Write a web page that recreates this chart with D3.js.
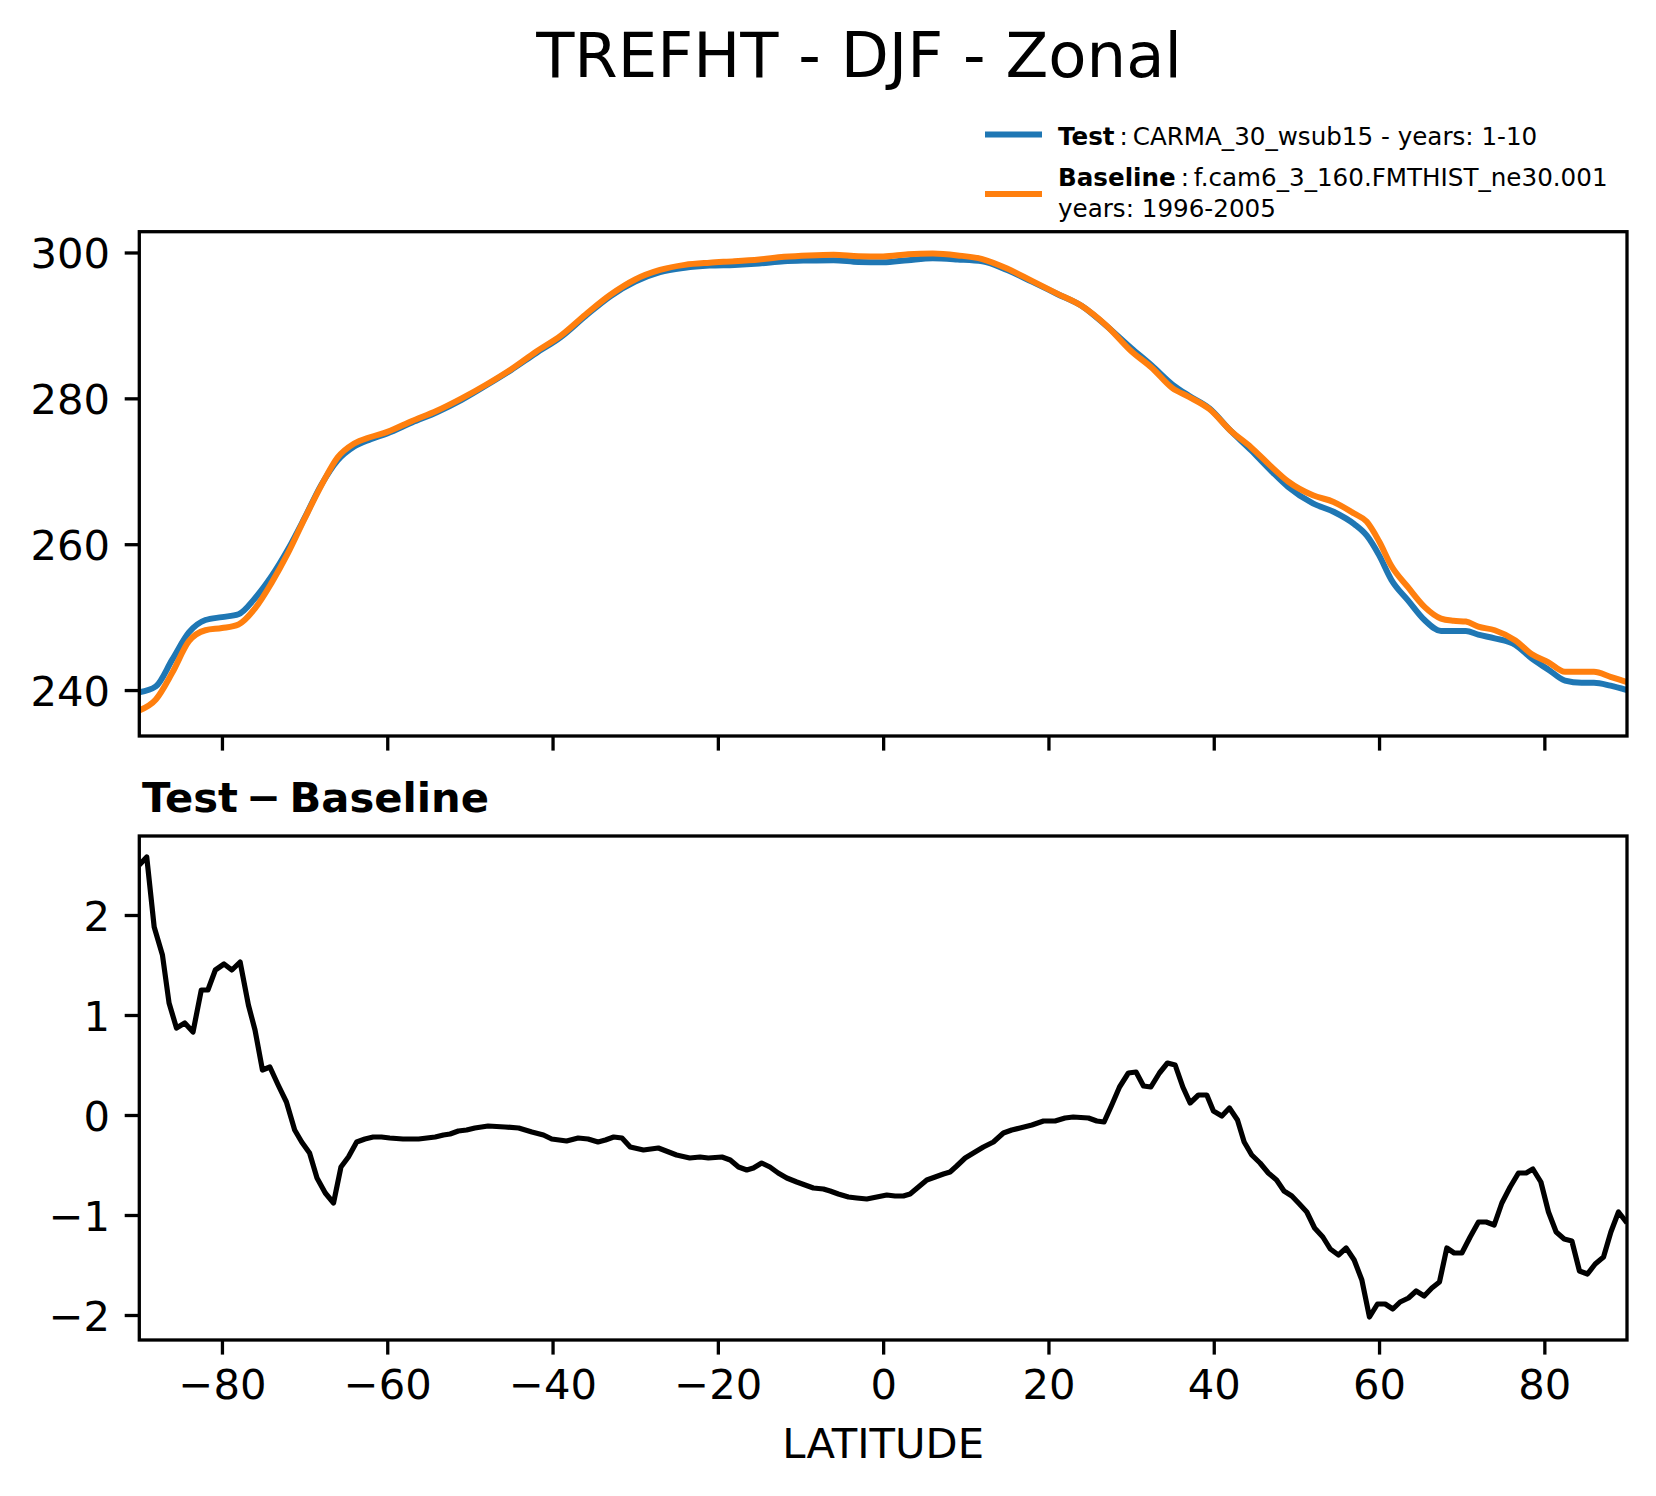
<!DOCTYPE html>
<html>
<head>
<meta charset="utf-8">
<script src="https://cdn.jsdelivr.net/npm/d3@7"></script>
<style>
  html, body { margin: 0; padding: 0; background: #ffffff; }
  svg { display: block; }
  text { font-family: "DejaVu Sans", sans-serif; fill: #000; }
</style>
</head>
<body>
<svg id="chart" width="1656" height="1496"></svg>
<script>
// ---------------- data ----------------
const latTop = [-90,-88,-86,-84,-82,-80,-78,-76,-74,-72,-70,-68,-66,-64,-62,-60,
  -57,-54,-51,-48,-45,-42,-39,-36,-33,-30,-27,-24,-21,-18,-15,-12,-9,-6,-3,
  0,3,6,9,12,15,18,21,24,27,30,
  32.5,35,37,39.5,42,44.5,47,49,52,54.5,57,58.5,60,61.5,63.5,65.5,67.5,69,70.5,72,74,76.5,78.5,80.5,82.5,84.5,86,88,90];

const testVals = [239.7,240.5,244.2,247.9,249.6,250.0,250.4,252.6,255.6,259.3,263.6,268.1,271.5,273.4,274.4,275.2,
  276.7,278.1,279.8,281.8,283.9,286.2,288.4,291.3,294.0,296.0,297.3,297.9,298.2,298.3,298.5,298.8,298.9,298.95,298.7,
  298.65,298.95,299.2,299.05,298.8,297.6,296.0,294.35,292.7,289.95,286.9,
  284.5,281.9,280.35,278.6,275.6,272.9,270.0,267.85,265.6,264.45,262.75,261.2,258.5,255.1,252.3,249.6,248.1,248.1,248.1,247.6,247.1,246.2,244.3,242.8,241.3,241.0,241.0,240.6,240.0];

const baselineVals = [237.2,238.7,242.4,246.7,248.2,248.5,249.0,251.2,254.7,258.8,263.5,268.0,271.9,273.8,274.7,275.4,
  276.9,278.3,280.0,281.9,284.0,286.4,288.6,291.5,294.2,296.3,297.6,298.3,298.6,298.8,299.05,299.4,299.6,299.7,299.5,
  299.45,299.75,299.85,299.6,299.1,297.8,296.1,294.4,292.7,290.0,286.5,
  284.2,281.4,280.2,278.5,275.6,273.3,270.6,268.6,266.7,265.8,264.2,263.1,260.4,257.0,254.1,251.4,249.8,249.5,249.4,248.7,248.2,246.8,244.9,243.8,242.5,242.5,242.5,241.8,241.1];

const latDiff = [-90,-89.1,-88.2,-87.2,-86.4,-85.5,-84.5,-83.5,-82.5,-81.7,
  -80.8,-79.75,-78.8,-77.8,-76.8,-76.0,-75.1,-74.2,-73.2,-72.2,
  -71.2,-70.35,-69.4,-68.5,-67.5,-66.5,-65.6,-64.7,-63.7,-62.7,
  -61.7,-60.7,-59.7,-58.1,-57.1,-56.2,-55.2,-54.2,-53.2,-52.4,
  -51.4,-50.4,-49.4,-47.8,-45.75,-44.1,-42.5,-41.1,-40.1,-38.3,
  -36.9,-35.7,-34.5,-33.6,-32.6,-31.6,-30.6,-29.0,-27.2,-25.0,
  -23.4,-22.15,-21.15,-19.5,-18.5,-17.5,-16.5,-15.7,-14.7,-13.7,
  -12.7,-11.66,-10.45,-9.45,-8.44,-7.23,-6.42,-5.42,-4.2,-3.2,
  -1.98,-0.77,0.44,1.44,2.45,3.26,4.27,5.28,6.29,7.29,
  8.1,8.9,9.92,10.92,12.13,13.34,14.55,15.56,16.57,18.0,
  19.4,20.8,22.0,23.0,24.84,25.85,26.73,27.66,28.6,29.67,
  30.6,31.5,32.39,33.43,34.4,35.33,36.26,37.14,38.15,39.16,
  39.96,40.98,41.9,42.87,43.68,44.6,45.6,46.6,47.6,48.5,
  49.45,50.37,51.26,52.2,53.2,54.1,55.09,56.02,56.99,57.92,
  58.84,59.81,60.74,61.67,62.55,63.56,64.49,65.46,66.39,67.31,
  68.2,69.09,70.02,71.02,72.03,72.96,73.93,74.86,75.86,76.87,
  77.8,78.61,79.58,80.5,81.43,82.4,83.33,84.25,85.22,86.15,
  87.16,88.05,88.97,90];

const diffVals = [2.5,2.58,1.88,1.60,1.12,0.87,0.92,0.83,1.25,1.25,
  1.45,1.51,1.45,1.53,1.10,0.85,0.45,0.48,0.30,0.13,
  -0.15,-0.27,-0.38,-0.63,-0.78,-0.88,-0.52,-0.42,-0.27,-0.24,
  -0.22,-0.22,-0.23,-0.24,-0.24,-0.24,-0.23,-0.22,-0.20,-0.19,
  -0.16,-0.15,-0.13,-0.11,-0.12,-0.13,-0.17,-0.20,-0.24,-0.26,
  -0.23,-0.24,-0.27,-0.25,-0.22,-0.23,-0.32,-0.35,-0.33,-0.40,
  -0.43,-0.42,-0.43,-0.42,-0.45,-0.52,-0.55,-0.53,-0.48,-0.52,
  -0.58,-0.63,-0.67,-0.70,-0.73,-0.74,-0.76,-0.79,-0.82,-0.83,
  -0.84,-0.82,-0.80,-0.81,-0.81,-0.79,-0.72,-0.65,-0.62,-0.59,
  -0.57,-0.51,-0.43,-0.38,-0.32,-0.27,-0.18,-0.15,-0.13,-0.10,
  -0.06,-0.06,-0.03,-0.02,-0.03,-0.06,-0.07,0.10,0.28,0.42,
  0.43,0.29,0.28,0.42,0.52,0.50,0.28,0.12,0.20,0.20,
  0.04,-0.01,0.07,-0.05,-0.27,-0.40,-0.48,-0.58,-0.65,-0.76,
  -0.81,-0.89,-0.97,-1.13,-1.22,-1.34,-1.40,-1.33,-1.45,-1.65,
  -2.02,-1.89,-1.89,-1.94,-1.87,-1.83,-1.76,-1.81,-1.73,-1.67,
  -1.33,-1.38,-1.38,-1.22,-1.07,-1.07,-1.10,-0.88,-0.72,-0.58,
  -0.58,-0.54,-0.67,-0.97,-1.17,-1.24,-1.26,-1.56,-1.59,-1.49,
  -1.42,-1.17,-0.97,-1.08];

const xTicks = [-80,-60,-40,-20,0,20,40,60,80];
const yTicksTop = [240,260,280,300];
const yTicksDiff = [-2,-1,0,1,2];

const titleText = "TREFHT - DJF - Zonal";
const legendTest = ["Test", "\u2009:\u2009CARMA_30_wsub15 - years: 1-10"];
const legendBase = ["Baseline", "\u2009:\u2009f.cam6_3_160.FMTHIST_ne30.001", "years: 1996-2005"];
const diffTitle = "Test\u2009\u2212\u2009Baseline";
const xLabel = "LATITUDE";

// ---------------- layout ----------------
const svg = d3.select("#chart");
svg.append("rect").attr("width", 1656).attr("height", 1496).attr("fill", "#fff");

const L = 139.3, R = 1627;
const top1 = 231.7, bot1 = 736;
const top2 = 836, bot2 = 1340;
const TICK = 14.6, PAD = 14.6, SPINE = 3.3, FS = 41.7;
const BLUE = "#1f77b4", ORANGE = "#ff7f0e";

const x = d3.scaleLinear().domain([-90, 90]).range([L, R]);
const y1 = d3.scaleLinear().domain([233.7, 302.85]).range([bot1, top1]);
const y2 = d3.scaleLinear().domain([-2.25, 2.79]).range([bot2, top2]);

const defs = svg.append("defs");
defs.append("clipPath").attr("id", "clip1").append("rect")
  .attr("x", L).attr("y", top1).attr("width", R - L).attr("height", bot1 - top1);
defs.append("clipPath").attr("id", "clip2").append("rect")
  .attr("x", L).attr("y", top2).attr("width", R - L).attr("height", bot2 - top2);

// title
svg.append("text").attr("x", 859).attr("y", 77).attr("text-anchor", "middle")
  .attr("font-size", 62.5).text(titleText);

// ---------- top panel lines ----------
const topLine = (vals) => d3.line()
  .x((d, i) => x(latTop[i])).y(d => y1(d)).curve(d3.curveMonotoneX)(vals);

const g1 = svg.append("g").attr("clip-path", "url(#clip1)");
g1.append("path").attr("d", topLine(testVals)).attr("fill", "none")
  .attr("stroke", BLUE).attr("stroke-width", 6).attr("stroke-linejoin", "round");
g1.append("path").attr("d", topLine(baselineVals)).attr("fill", "none")
  .attr("stroke", ORANGE).attr("stroke-width", 6).attr("stroke-linejoin", "round");

// ---------- diff line ----------
const g2 = svg.append("g").attr("clip-path", "url(#clip2)");
const dline = d3.line().x((d, i) => x(latDiff[i])).y(d => y2(d));
g2.append("path").attr("d", dline(diffVals)).attr("fill", "none")
  .attr("stroke", "#000").attr("stroke-width", 5.2).attr("stroke-linejoin", "round");

// ---------- axes ----------
function styleAxis(g) {
  g.select(".domain").remove();
  g.selectAll(".tick line").attr("stroke", "#000").attr("stroke-width", SPINE);
  g.selectAll(".tick text").attr("font-size", FS).attr("fill", "#000")
    .attr("font-family", "DejaVu Sans");
}
const fmtMinus = d => (d < 0 ? "\u2212" + Math.abs(d) : String(d));

// top panel
svg.append("g").attr("transform", `translate(0,${bot1})`)
  .call(d3.axisBottom(x).tickValues(xTicks).tickSize(TICK).tickFormat(""))
  .call(styleAxis);
svg.append("g").attr("transform", `translate(${L},0)`)
  .call(d3.axisLeft(y1).tickValues(yTicksTop).tickSize(TICK).tickPadding(PAD).tickFormat(fmtMinus))
  .call(styleAxis)
  .call(g => g.selectAll(".tick text").attr("dy", "0.36em"));

// bottom panel
svg.append("g").attr("transform", `translate(0,${bot2})`)
  .call(d3.axisBottom(x).tickValues(xTicks).tickSize(TICK).tickPadding(PAD).tickFormat(fmtMinus))
  .call(styleAxis)
  .call(g => g.selectAll(".tick text").attr("dy", "0.71em"));
svg.append("g").attr("transform", `translate(${L},0)`)
  .call(d3.axisLeft(y2).tickValues(yTicksDiff).tickSize(TICK).tickPadding(PAD).tickFormat(fmtMinus))
  .call(styleAxis)
  .call(g => g.selectAll(".tick text").attr("dy", "0.36em"));

// spines
[[top1, bot1], [top2, bot2]].forEach(([t, b]) => {
  svg.append("rect").attr("x", L).attr("y", t).attr("width", R - L).attr("height", b - t)
    .attr("fill", "none").attr("stroke", "#000").attr("stroke-width", SPINE);
});

// x label
svg.append("text").attr("x", (L + R) / 2).attr("y", 1458).attr("text-anchor", "middle")
  .attr("font-size", FS).text(xLabel);

// diff subplot title
svg.append("text").attr("x", 142).attr("y", 812).attr("font-size", FS)
  .attr("font-weight", "bold").text(diffTitle);

// ---------- legend ----------
const lg = svg.append("g");
const LX0 = 985, LX1 = 1042, TX = 1058, LFS = 24.6;
lg.append("line").attr("x1", LX0).attr("x2", LX1).attr("y1", 134.5).attr("y2", 134.5)
  .attr("stroke", BLUE).attr("stroke-width", 6);
lg.append("line").attr("x1", LX0).attr("x2", LX1).attr("y1", 194).attr("y2", 194)
  .attr("stroke", ORANGE).attr("stroke-width", 6);
const t1 = lg.append("text").attr("x", TX).attr("y", 144.5).attr("font-size", LFS);
t1.append("tspan").attr("font-weight", "bold").text(legendTest[0]);
t1.append("tspan").text(legendTest[1]);
const t2 = lg.append("text").attr("x", TX).attr("y", 186).attr("font-size", LFS);
t2.append("tspan").attr("font-weight", "bold").text(legendBase[0]);
t2.append("tspan").text(legendBase[1]);
lg.append("text").attr("x", TX).attr("y", 217).attr("font-size", LFS).text(legendBase[2]);
</script>
</body>
</html>
